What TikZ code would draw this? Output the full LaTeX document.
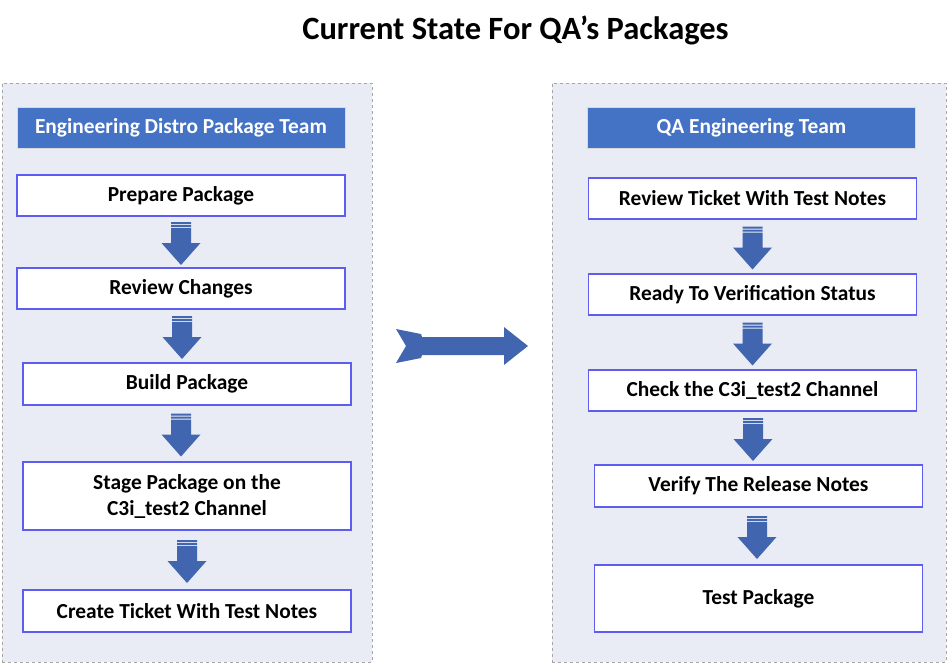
\documentclass[tikz,border=0pt]{standalone}
\usepackage{fontspec}
\setmainfont{Carlito}
\usepackage{tikz}
\usetikzlibrary{calc}
\definecolor{panelfill}{HTML}{E9EBF5}
\definecolor{panelline}{HTML}{A6A6A6}
\definecolor{headfill}{HTML}{4472C4}
\definecolor{stepline}{HTML}{5D5DF2}
\definecolor{arrowblue}{HTML}{4166AF}
\tikzset{
  panel/.style   ={draw=panelline,dashed,line width=0.9pt,fill=panelfill,inner sep=0pt},
  header/.style  ={draw=black!15,line width=1pt,fill=headfill,text=white,
                   minimum width=328pt,minimum height=41pt,inner sep=0pt,
                   font=\fontsize{21.4}{26}\selectfont\bfseries},
  stepbox/.style ={draw=stepline,line width=1.3pt,fill=white,align=center,
                   minimum width=328pt,minimum height=41pt,inner sep=0pt,
                   font=\fontsize{21.4}{26}\selectfont\bfseries},
  arrowfill/.style={fill=arrowblue,draw=none}
}
% striped down arrow between two boxes, optional x offset
\newcommand\flowarrow[3][0]{%
  \coordinate (m) at ($(#2.south)!0.5!(#3.north)$);
  \begin{scope}[shift={(m)},xshift=#1]
    \fill[arrowfill] (-10,-20) rectangle (10,-18)
                     (-10,-17) rectangle (10,-15)
                     (-10,-14) -- (10,-14) -- (10,1) -- (19.5,1) -- (0,23)
                     -- (-19.5,1) -- (-10,1) -- cycle;
  \end{scope}}

\begin{document}
\begin{tikzpicture}[x=1pt,y=-1pt]
  \useasboundingbox (0,0) rectangle (948,664);
  \node[font=\fontsize{32.5}{36}\selectfont\bfseries] (title) at (515.5,30) {Current State For QA’s Packages};

  % panels
  \node[panel,minimum width=370pt,minimum height=579pt] (lpanel) at (187,372.5) {};
  \node[panel,minimum width=394pt,minimum height=579pt] (rpanel) at (749,372.5) {};

  % engineering side
  \node[header] (lhead) at (181,127.5) {Engineering Distro Package Team};
  \node[stepbox] (prep)  at (181,195.5) {Prepare Package};
  \node[stepbox] (revch) at (181,288.5) {Review Changes};
  \node[stepbox,minimum height=42pt] (build) at (187,384) {Build Package};
  \node[stepbox,minimum height=68pt] (stage) at (187,496) {Stage Package on the\\C3i\_test2 Channel};
  \node[stepbox,minimum height=42pt] (ticket) at (187,611) {Create Ticket With Test Notes};

  \flowarrow{prep}{revch}
  \flowarrow[-2]{revch}{build}
  \flowarrow[-6]{build}{stage}
  \flowarrow{stage}{ticket}

  % qa side
  \node[header] (rhead) at (751.5,127.5) {QA Engineering Team};
  \node[stepbox] (revtk) at (752.5,198.5) {Review Ticket With Test Notes};
  \node[stepbox] (ready) at (752.5,294.5) {Ready To Verification Status};
  \node[stepbox] (check) at (752.5,390.5) {Check the C3i\_test2 Channel};
  \node[stepbox,minimum height=42pt] (verify) at (758.5,486) {Verify The Release Notes};
  \node[stepbox,minimum height=67pt] (test) at (758.5,598.5) {Test Package};

  \flowarrow{revtk}{ready}
  \flowarrow{ready}{check}
  \flowarrow[-2.5]{check}{verify}
  \flowarrow[-1.5]{verify}{test}

  % hand-over arrow
  \coordinate (hand) at ($(lpanel.east)!0.5!(rpanel.west)+(0,-26.5)$);
  \begin{scope}[shift={(hand)}]
    \fill[arrowfill] (-66,-17) -- (-41,-12) -- (-40,-9) -- (42,-9) -- (42,-19)
      -- (66,0) -- (42,19) -- (42,9) -- (-40,9) -- (-41,12) -- (-66,17)
      -- (-56,0) -- cycle;
  \end{scope}
\end{tikzpicture}
\end{document}
